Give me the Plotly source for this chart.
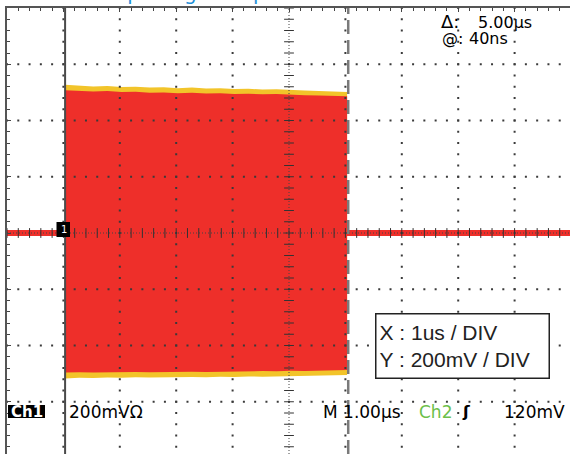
import numpy as np
import plotly.graph_objects as go

# ---------------- data ----------------
us_per_div = 1.0            # X : 1us / DIV
v_per_div = 0.2             # Y : 200mV / DIV
n_div_x = 10
n_div_y = 8
burst_start_us = 1.03       # left cursor position (from left edge of screen)
burst_len_us = 5.0          # cursor delta 5.00us

# burst envelope, time relative to burst start (us)
env_t_us = [0.0, 0.25, 0.5, 0.75, 1.0, 1.25, 1.5, 1.75, 2.0, 2.25, 2.5,
            2.75, 3.0, 3.25, 3.5, 3.75, 4.0, 4.25, 4.5, 4.75, 5.0]
env_outer_top = [0.527, 0.524, 0.521, 0.523, 0.519, 0.520, 0.517, 0.518, 0.515, 0.517, 0.514,
                 0.515, 0.512, 0.513, 0.510, 0.511, 0.508, 0.507, 0.505, 0.503, 0.501]
env_inner_top = [0.508, 0.505, 0.503, 0.505, 0.501, 0.502, 0.499, 0.500, 0.497, 0.499, 0.496,
                 0.497, 0.494, 0.495, 0.493, 0.494, 0.491, 0.490, 0.489, 0.487, 0.486]
env_inner_bot = [-0.496, -0.495, -0.496, -0.494, -0.495, -0.494, -0.495, -0.493, -0.494, -0.493, -0.494,
                 -0.492, -0.493, -0.492, -0.491, -0.492, -0.490, -0.491, -0.489, -0.489, -0.487]
env_outer_bot = [-0.517, -0.515, -0.516, -0.514, -0.515, -0.513, -0.514, -0.512, -0.513, -0.512, -0.513,
                 -0.511, -0.512, -0.510, -0.511, -0.509, -0.510, -0.508, -0.507, -0.506, -0.505]
baseline_v = 0.0

# ---------------- layout constants (pixels) ----------------
W, H = 570, 454
L, T = 7, 8                 # screen left / top border
PX_DIV_X = 56.4
PX_DIV_Y = 56.25
x_max = (W - L) / PX_DIV_X
y_top = n_div_y / 2 * v_per_div
y_bot = y_top - (H - T) / PX_DIV_Y * v_per_div

RED = "#ee2f2a"
YEL = "#f2c42a"
GRID = "#3a3a3a"

def px(xp):
    return (xp - L) / (W - L)

def py(yp):
    return (H - yp) / (H - T)

burst_end_us = burst_start_us + burst_len_us
t_abs = [burst_start_us + t for t in env_t_us]

fig = go.Figure()

# outer (yellow) envelope
fig.add_trace(go.Scatter(
    x=t_abs + t_abs[::-1], y=env_outer_top + env_outer_bot[::-1],
    fill="toself", fillcolor=YEL, line=dict(width=0), mode="lines", hoverinfo="skip"))
# inner (red) envelope
fig.add_trace(go.Scatter(
    x=t_abs + t_abs[::-1], y=env_inner_top + env_inner_bot[::-1],
    fill="toself", fillcolor=RED, line=dict(width=0), mode="lines", hoverinfo="skip"))
# baseline trace
fig.add_trace(go.Scatter(
    x=[0, burst_start_us, None, burst_end_us - 0.02, n_div_x * us_per_div],
    y=[baseline_v, baseline_v, None, baseline_v, baseline_v],
    mode="lines", line=dict(color=RED, width=6), hoverinfo="skip"))

# grid dots
gx, gy = [], []
minor_y = np.arange(-n_div_y / 2 * 5, n_div_y / 2 * 5 + 1) * v_per_div / 5
minor_x = np.arange(0, n_div_x * 5 + 1) * us_per_div / 5
for k in range(1, n_div_x):
    if k == n_div_x // 2:
        continue
    gx += [k * us_per_div] * len(minor_y)
    gy += list(minor_y)
for j in range(-n_div_y // 2 + 1, n_div_y // 2):
    if j == 0:
        continue
    gx += list(minor_x)
    gy += [j * v_per_div] * len(minor_x)
fig.add_trace(go.Scatter(x=gx, y=gy, mode="markers",
                         marker=dict(symbol="square", size=2, color=GRID, line=dict(width=0)),
                         hoverinfo="skip"))

# center cross lines (dense dotted) and their ticks
xc = n_div_x / 2 * us_per_div
fig.add_trace(go.Scatter(x=[0, x_max], y=[0, 0], mode="lines",
                         line=dict(color="#444", width=1, dash="1px,2px"), hoverinfo="skip"))
fig.add_trace(go.Scatter(x=[xc, xc], y=[y_bot, y_top], mode="lines",
                         line=dict(color="#444", width=1, dash="1px,2px"), hoverinfo="skip"))
fig.add_trace(go.Scatter(x=minor_x, y=[0] * len(minor_x), mode="markers",
                         marker=dict(symbol="line-ns", size=7, line=dict(color="#333", width=1)),
                         hoverinfo="skip"))
fig.add_trace(go.Scatter(x=[xc] * len(minor_y), y=minor_y, mode="markers",
                         marker=dict(symbol="line-ew", size=7, line=dict(color="#333", width=1)),
                         hoverinfo="skip"))

# cursors
fig.add_trace(go.Scatter(x=[burst_start_us, burst_start_us], y=[y_bot, y_top], mode="lines",
                         line=dict(color="#4a4a4a", width=2), hoverinfo="skip"))
fig.add_trace(go.Scatter(x=[burst_end_us + 0.02, burst_end_us + 0.02], y=[y_bot, y_top], mode="lines",
                         line=dict(color="#7a7a7a", width=2.5, dash="14px,6px"), hoverinfo="skip"))

SCOPE_FONT = "DejaVu Sans"

def ann(text, xp, yp, xanchor="left", size=17, color="black", family=SCOPE_FONT, yanchor="middle", **kw):
    return dict(text=text, x=px(xp), y=py(yp), xref="paper", yref="paper",
                xanchor=xanchor, yanchor=yanchor, showarrow=False,
                font=dict(size=size, color=color, family=family), **kw)

annotations = [
    ann("Tek  Stop: Single Seq", 46, 7, size=20, color="#1f8fd8", yanchor="bottom"),
    ann("Δ:", 439, 22, size=18),
    ann("5.00µs", 476, 22.5, size=16),
    ann("@:", 440, 38.5, size=16),
    ann("40ns", 467, 38.5, size=16),
    ann("<b>Ch1</b>", 26.5, 411.5, xanchor="center", size=15, color="white"),
    ann("200mVΩ", 67, 411.5),
    ann("M 1.00µs", 321, 411.5),
    ann("Ch2", 417, 411.5, color="#6cc04a"),
    ann("<b>ʃ</b>", 466, 411.5, xanchor="center", size=16),
    ann("120mV", 567, 411.5, xanchor="right"),
    ann("1", 63.5, 229.5, xanchor="center", size=10, color="white"),
    dict(text="X : 1us / DIV<br>Y : 200mV / DIV", x=px(375), y=py(313), xref="paper", yref="paper",
         xanchor="left", yanchor="top", showarrow=False, align="left",
         font=dict(size=21, color="#222", family="Liberation Sans"),
         bordercolor="#222", borderwidth=1.5, borderpad=3, bgcolor="white",
         width=166, height=57),
]

shapes = [
    dict(type="rect", xref="paper", yref="paper", x0=px(8), x1=px(45), y0=py(418), y1=py(405),
         fillcolor="black", line=dict(width=0)),
    dict(type="rect", xref="paper", yref="paper", x0=px(56.5), x1=px(70), y0=py(237), y1=py(222),
         fillcolor="black", line=dict(width=0)),
]

fig.update_layout(
    width=W, height=H,
    margin=dict(l=L, r=0, t=T, b=0, pad=0),
    paper_bgcolor="white", plot_bgcolor="white",
    showlegend=False,
    annotations=annotations, shapes=shapes,
    xaxis=dict(range=[0, x_max], side="top", showline=True, linecolor="#555", linewidth=2,
               showgrid=False, zeroline=False, showticklabels=False,
               ticks="inside", tick0=0, dtick=us_per_div, ticklen=4, tickcolor="#444",
               minor=dict(ticks="inside", dtick=us_per_div / 5, ticklen=3, tickcolor="#444", showgrid=False),
               fixedrange=True),
    yaxis=dict(range=[y_bot, y_top], side="left", showline=True, linecolor="#555", linewidth=2,
               showgrid=False, zeroline=False, showticklabels=False,
               ticks="inside", tick0=0, dtick=v_per_div, ticklen=4, tickcolor="#444",
               minor=dict(ticks="inside", dtick=v_per_div / 5, ticklen=3, tickcolor="#444", showgrid=False),
               fixedrange=True),
)

fig.write_html("out.html", config={"displayModeBar": False},
               post_script="document.body.style.margin='0';document.body.style.overflow='hidden';")
